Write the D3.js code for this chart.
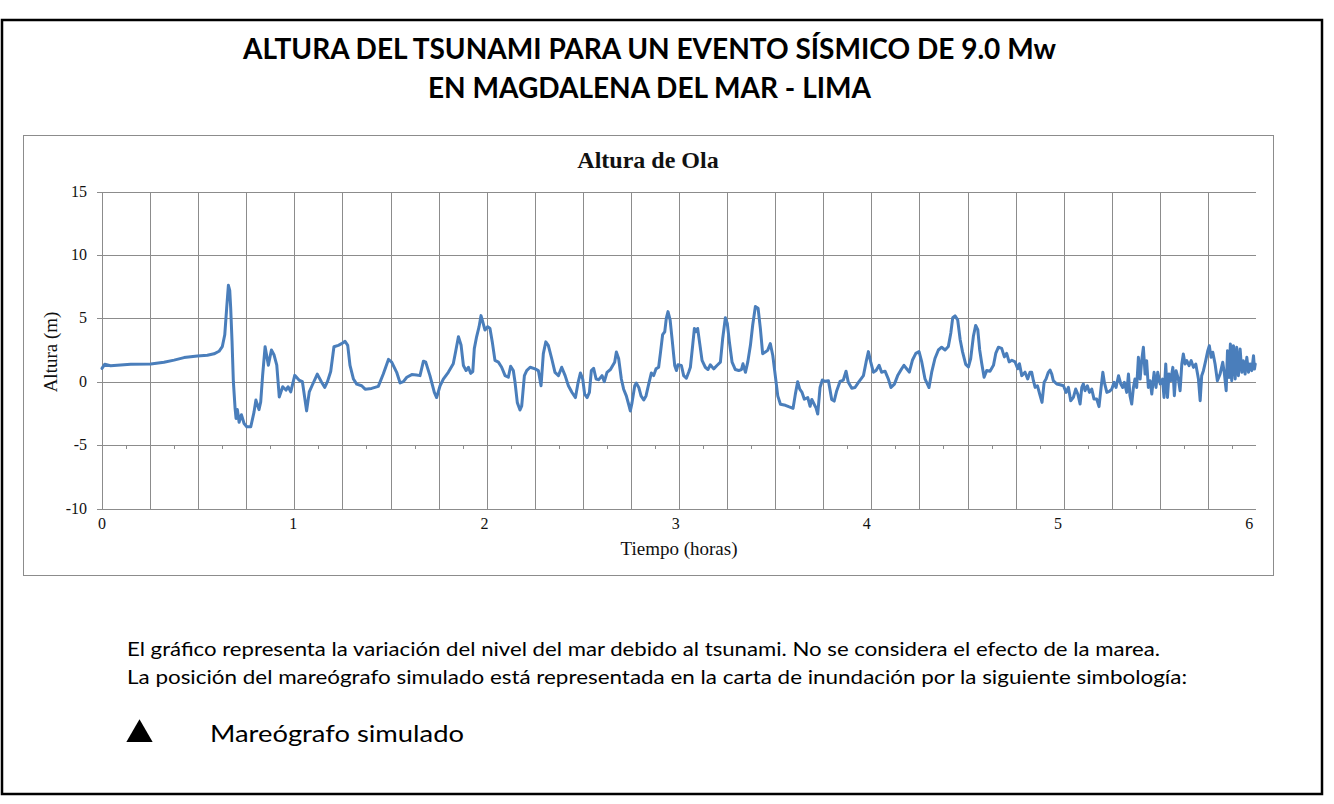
<!DOCTYPE html>
<html>
<head>
<meta charset="utf-8">
<script src="https://cdn.jsdelivr.net/npm/d3@7"></script>
<style>
  body { margin: 0; background: #fff; }
  svg { display: block; }
</style>
</head>
<body>
<script>
// tiempo en horas / altura en metros
var tiempoH = [
  0, 0.014, 0.045, 0.15, 0.255, 0.324, 0.377, 0.429, 0.499, 0.551, 0.586, 0.612, 0.629, 0.642, 0.652, 0.661, 0.668, 0.673, 0.680, 0.687,
  0.696, 0.701, 0.708, 0.717, 0.729, 0.743, 0.757, 0.778, 0.795, 0.805, 0.821, 0.830, 0.840, 0.853, 0.870, 0.886, 0.900, 0.914, 0.927, 0.945,
  0.962, 0.973, 0.987, 1.008, 1.030, 1.048, 1.070, 1.084, 1.100, 1.126, 1.147, 1.165, 1.179, 1.196, 1.213,
  1.236, 1.253, 1.271, 1.285, 1.297, 1.315, 1.332, 1.358, 1.376, 1.410, 1.445, 1.471, 1.498, 1.515, 1.541, 1.559, 1.576, 1.594, 1.620, 1.645,
  1.663, 1.681, 1.693, 1.715, 1.738, 1.750, 1.768, 1.785, 1.811, 1.837, 1.849, 1.864, 1.878, 1.890, 1.904, 1.916, 1.928, 1.939, 1.947, 1.959,
  1.972, 1.982, 1.991, 2.003, 2.017, 2.029, 2.041, 2.055, 2.073, 2.090, 2.108, 2.125, 2.137, 2.151, 2.160, 2.172, 2.186, 2.195, 2.209, 2.221,
  2.239, 2.265, 2.282, 2.296, 2.308, 2.321, 2.334, 2.352, 2.369, 2.387, 2.404, 2.422, 2.439,
  2.458, 2.476, 2.490, 2.502, 2.514, 2.524, 2.537, 2.549, 2.559, 2.571, 2.584, 2.598, 2.615, 2.627, 2.641, 2.659, 2.671, 2.681, 2.690, 2.702,
  2.716, 2.728, 2.742, 2.754, 2.763, 2.772, 2.786, 2.794, 2.807, 2.819, 2.833, 2.845, 2.859, 2.873, 2.885, 2.897, 2.911, 2.920, 2.932, 2.943,
  2.951, 2.960, 2.971, 2.981, 2.995, 3.004, 3.012, 3.030, 3.042, 3.056, 3.068, 3.077, 3.089, 3.098, 3.106, 3.115, 3.126, 3.138, 3.155, 3.169,
  3.181, 3.199, 3.216, 3.234, 3.246, 3.260, 3.270, 3.281, 3.295, 3.312, 3.330, 3.344, 3.352, 3.365, 3.377, 3.391, 3.403, 3.417, 3.431, 3.443,
  3.455, 3.469, 3.481, 3.495, 3.508, 3.521, 3.534, 3.548, 3.574, 3.591, 3.614, 3.626, 3.638, 3.649, 3.661, 3.673,
  3.691, 3.703, 3.712, 3.725, 3.734, 3.743, 3.755, 3.767, 3.781, 3.799, 3.816, 3.829, 3.842, 3.860, 3.877, 3.891, 3.903, 3.921, 3.938, 3.956,
  3.982, 3.996, 4.008, 4.020, 4.034, 4.048, 4.064, 4.077, 4.095, 4.112, 4.126, 4.144, 4.161, 4.182, 4.194, 4.208, 4.222, 4.238, 4.256, 4.273,
  4.287, 4.304, 4.325, 4.339, 4.356, 4.374, 4.391, 4.409, 4.426, 4.439, 4.449, 4.461, 4.475, 4.488, 4.500, 4.517, 4.531, 4.543, 4.557, 4.569,
  4.580, 4.590, 4.601, 4.613, 4.627, 4.644, 4.662, 4.674, 4.688, 4.705, 4.719, 4.731, 4.744, 4.758, 4.775, 4.789, 4.798, 4.810, 4.827, 4.841, 4.853,
  4.862, 4.871, 4.880, 4.892, 4.906, 4.916, 4.927, 4.937, 4.949, 4.958, 4.967, 4.975, 4.993, 5.010, 5.028, 5.042, 5.054, 5.066, 5.080, 5.092,
  5.103, 5.115, 5.124, 5.132, 5.141, 5.153, 5.164, 5.176, 5.188, 5.202, 5.214, 5.225, 5.234, 5.242, 5.255, 5.268, 5.281, 5.293, 5.303, 5.316,
  5.328, 5.338, 5.347, 5.359, 5.368, 5.376, 5.385, 5.394, 5.402, 5.411, 5.420, 5.429, 5.437, 5.446, 5.455, 5.463, 5.472, 5.481, 5.490, 5.502,
  5.512, 5.521, 5.534, 5.546, 5.554, 5.563, 5.572, 5.580, 5.589, 5.600, 5.608, 5.617, 5.629, 5.638, 5.647, 5.655, 5.664, 5.673, 5.685, 5.696,
  5.708, 5.720, 5.734, 5.743, 5.751, 5.760, 5.772, 5.783, 5.791, 5.800, 5.809, 5.821, 5.833, 5.847, 5.861, 5.870, 5.879, 5.886, 5.894, 5.901,
  5.908, 5.917, 5.926, 5.934, 5.943, 5.952, 5.961, 5.969, 5.978, 5.987, 5.996, 6.004, 6.013, 6.022, 6.027, 6.031
];
var alturaM = [
  1.05, 1.37, 1.26, 1.37, 1.4, 1.53, 1.7, 1.9, 2.03, 2.08, 2.2, 2.4, 2.76, 3.7, 5.8, 7.6, 7.2, 5.8, 3.2, 0,
  -2.1, -2.9, -2.2, -3.2, -2.6, -3.3, -3.55, -3.55, -2.4, -1.45, -2.2, -1.6, 0.5, 2.76, 1.3, 2.5, 2.1, 1.3, -1.2, -0.4,
  -0.66, -0.4, -0.8, 0.5, 0.13, 0, -2.3, -0.8, -0.26, 0.6, 0, -0.45, 0, 0.8, 2.76,
  2.87, 3.0, 3.19, 2.87, 1.28, 0.21, -0.19, -0.32, -0.59, -0.53, -0.37, 0.61, 1.76, 1.54, 0.74, -0.1, 0, 0.35, 0.56, 0.53,
  0.48, 1.62, 1.54, 0.48, -0.85, -1.25, -0.32, 0.21, 0.74, 1.41, 2.34, 3.54, 2.87, 1.28, 0.88, 1.14, 0.66, 0.8, 2.61, 3.54,
  4.34, 5.21, 4.73, 4.07, 4.34, 4.2, 3.14, 1.68, 1.54, 1.14, 0.48, 0.35, 1.22, 0.88, -0.05, -1.65, -2.23, -1.91, 0.48, 0.88,
  1.14, 1.01, 0.88, -0.32, 2.21, 3.14, 2.87, 1.81, 0.74, 0.48, 1.14, 0.48, -0.32,
  -0.85, -1.25, -0.05, 0.69, 0.21, -0.98, -1.25, -0.85, 0.88, 1.06, 0.21, 0.16, 0.48, 0, 0.74, 0.96, 1.28, 1.54, 2.34, 1.81,
  0.21, -0.59, -1.12, -1.78, -2.31, -1.65, -0.32, -0.11, -0.45, -1.12, -1.44, -1.12, -0.19, 0.69, 0.48, 1.01, 1.14, 2.21, 3.72, 3.94,
  5.0, 5.53, 4.87, 3.41, 1.28, 0.88, 1.33, 1.28, 0.48, 0.27, 0.74, 1.14, 2.87, 4.2, 3.94, 4.2, 3.0, 1.68, 1.14, 0.96,
  1.33, 1.01, 1.28, 1.54, 3.41, 5.05, 4.6, 3.14, 1.54, 0.96, 0.88, 0.96, 1.41, 0.74, 1.54, 2.87, 4.47, 5.93, 5.8, 4.2,
  2.21, 2.34, 2.47, 3.0, 2.07, 0.48, -1.12, -1.78, -1.86, -1.97, -2.1, -0.98, 0, -0.59, -0.85, -1.38,
  -1.26, -1.94, -1.4, -1.8, -2.07, -2.55, -0.46, 0.13, 0.03, 0.08, -1.4, -1.53, -0.73, 0.03, 0.13, 0.83, -0.05, -0.51, -0.46, -0.05,
  0.48, 1.56, 2.37, 1.56, 0.75, 0.89, 1.29, 0.75, 0.83, 0.22, -0.46, -0.19, 0.48, 1.02, 1.29, 1.02, 0.75, 1.69, 2.23, 2.37,
  1.56, 0.22, -0.46, 0.75, 1.83, 2.5, 2.72, 2.5, 2.77, 3.84, 5.05, 5.19, 4.87, 3.31, 2.37, 1.37, 1.16, 1.83, 3.58, 4.44,
  4.11, 2.5, 1.42, 0.35, 0.89, 0.83, 1.29, 2.23, 2.72, 2.63, 1.96, 2.23, 1.56, 1.69, 1.56, 1.02, 1.42, 0.48, 0.75, 0.22, 0.75,
  0.74, 0.08, -0.45, -0.32, -1.1, -1.63, -0.05, 0.21, 0.74, 0.92, 0.6, 0.08, -0.18, -0.24, -0.32, -0.84, -0.45, -1.5, -1.24, -0.58,
  -0.97, -1.76, -0.45, -0.18, -0.71, -0.32, -0.84, -0.58, -1.37, -1.37, -1.97, -0.45, 0.74, -0.05, -0.84, -0.76, -0.58, -0.05, -0.45, 0.47,
  -0.18, -0.45, -0.05, -0.84, 0.6, -1.1, -1.76, -0.45, 0.21, -0.45, 1.92, 0.21, 1.66, 2.71, 0.6, 1.66, -0.45, 0.08, -0.97, 0.74,
  -0.45, 0.74, -0.18, 0.21, -1.24, 1.39, -1.24, 0.6, 0.08, 1.13, -1.1, 0.87, 0.21, -0.71, 1.39, 2.18, 1.39, 1.66, 1.26, 1.66,
  1.13, 1.39, 0.21, -1.5, 0.47, 0.87, 1.66, 2.45, 2.84, 1.92, 2.32, 1.39, 0.08, 0.6, 1.53, 0.6, -0.71, 2.45, 0.34, 2.97,
  0.08, 2.84, 0.21, 2.71, 0.47, 2.58, 0.74, 1.66, 0.6, 1.92, 0.74, 1.39, 0.87, 2.05, 1.0, 1.39
];

var yTicks = [-10, -5, 0, 5, 10, 15];
var xTicks = [0, 1, 2, 3, 4, 5, 6];
var xMax = 6.035;      // fin del eje de tiempo
var nDivisiones = 24;  // lineas verticales de la cuadricula

var titulo = ["ALTURA DEL TSUNAMI PARA UN EVENTO SÍSMICO DE 9.0 Mw", "EN MAGDALENA DEL MAR - LIMA"];
var notas = [
  "El gráfico representa la variación del nivel del mar debido al tsunami. No se considera el efecto de la marea.",
  "La posición del mareógrafo simulado está representada en la carta de inundación por la siguiente simbología:"
];

var W = 1334, H = 804;
var gridColor = '#8c8c8c';
var lineColor = '#4a7ebb';

var svg = d3.select("body").append("svg")
  .attr("width", W)
  .attr("height", H);

svg.append("rect").attr("width", W).attr("height", H).attr("fill", "#fff");

// marco exterior
svg.append("rect")
  .attr("x", 2).attr("y", 20)
  .attr("width", 1320).attr("height", 774)
  .attr("fill", "none")
  .attr("stroke", "#000")
  .attr("stroke-width", 2.5);

// titulo principal
svg.selectAll(".titulo")
  .data(titulo)
  .enter()
  .append("text")
  .attr("class", "titulo")
  .attr("x", 649.5)
  .attr("y", function(d, i) { return 59 + i * 39; })
  .attr("text-anchor", "middle")
  .attr("font-family", "Lato, 'Open Sans', sans-serif")
  .attr("font-weight", "bold")
  .attr("font-size", "29px")
  .attr("textLength", function(d, i) { return i == 0 ? 813 : 443; })
  .attr("lengthAdjust", "spacingAndGlyphs")
  .text(function(d) { return d; });

// caja del grafico
svg.append("rect")
  .attr("x", 23.5).attr("y", 135.5)
  .attr("width", 1250).attr("height", 440)
  .attr("fill", "none")
  .attr("stroke", gridColor)
  .attr("stroke-width", 1);

var x = d3.scaleLinear().domain([0, xMax]).range([102, 1256]);
var y = d3.scaleLinear().domain([-10, 15]).range([508.5, 191.5]);

var serif = "'Liberation Serif', 'Times New Roman', serif";

svg.append("text")
  .attr("x", 648)
  .attr("y", 168)
  .attr("text-anchor", "middle")
  .attr("font-family", serif)
  .attr("font-weight", "bold")
  .attr("font-size", "24px")
  .attr("fill", "#111")
  .text("Altura de Ola");

var grid = svg.append("g").attr("shape-rendering", "crispEdges");

// lineas horizontales
grid.selectAll(".hgrid")
  .data(yTicks)
  .enter()
  .append("line")
  .attr("x1", 97)
  .attr("x2", x(xMax))
  .attr("y1", function(d) { return Math.round(y(d)) + 0.5; })
  .attr("y2", function(d) { return Math.round(y(d)) + 0.5; })
  .attr("stroke", gridColor);

// lineas verticales
var vIdx = d3.range(0, nDivisiones);
grid.selectAll(".vgrid")
  .data(vIdx)
  .enter()
  .append("line")
  .attr("x1", function(d) { return Math.round(x(d * xMax / nDivisiones)) + 0.5; })
  .attr("x2", function(d) { return Math.round(x(d * xMax / nDivisiones)) + 0.5; })
  .attr("y1", y(15))
  .attr("y2", y(-10))
  .attr("stroke", gridColor);

// marcas menores sobre la linea de -5
grid.selectAll(".minor")
  .data(vIdx)
  .enter()
  .append("line")
  .attr("x1", function(d) { return Math.round(x((d + 0.5) * xMax / nDivisiones)) + 0.5; })
  .attr("x2", function(d) { return Math.round(x((d + 0.5) * xMax / nDivisiones)) + 0.5; })
  .attr("y1", Math.round(y(-5)))
  .attr("y2", Math.round(y(-5)) + 4)
  .attr("stroke", gridColor);

// etiquetas eje Y
svg.selectAll(".ylab")
  .data(yTicks)
  .enter()
  .append("text")
  .attr("x", 87)
  .attr("y", function(d) { return y(d) + 5; })
  .attr("text-anchor", "end")
  .attr("font-family", serif)
  .attr("font-size", "16px")
  .attr("fill", "#111")
  .text(function(d) { return d; });

// etiquetas eje X
svg.selectAll(".xlab")
  .data(xTicks)
  .enter()
  .append("text")
  .attr("x", function(d) { return x(d); })
  .attr("y", 529)
  .attr("text-anchor", "middle")
  .attr("font-family", serif)
  .attr("font-size", "16px")
  .attr("fill", "#111")
  .text(function(d) { return d; });

svg.append("text")
  .attr("x", 679)
  .attr("y", 555)
  .attr("text-anchor", "middle")
  .attr("font-family", serif)
  .attr("font-size", "19px")
  .attr("fill", "#111")
  .text("Tiempo (horas)");

svg.append("text")
  .attr("transform", "translate(57," + 352 + ")rotate(-90)")
  .attr("text-anchor", "middle")
  .attr("font-family", serif)
  .attr("font-size", "19px")
  .attr("fill", "#111")
  .text("Altura (m)");

// serie
var serie = tiempoH.map(function(t, i) { return { t: t, h: alturaM[i] }; });
var linea = d3.line()
  .x(function(d) { return x(d.t); })
  .y(function(d) { return y(d.h); });

svg.append("path")
  .datum(serie)
  .attr("d", linea)
  .attr("fill", "none")
  .attr("stroke", lineColor)
  .attr("stroke-width", 3)
  .attr("stroke-linejoin", "round")
  .attr("stroke-linecap", "round");

// notas inferiores
svg.selectAll(".nota")
  .data(notas)
  .enter()
  .append("text")
  .attr("x", 127)
  .attr("y", function(d, i) { return 656 + i * 28; })
  .attr("font-family", "Lato, 'Open Sans', sans-serif")
  .attr("font-size", "19px")
  .attr("fill", "#000")
  .attr("textLength", function(d, i) { return i == 0 ? 1033 : 1060; })
  .attr("lengthAdjust", "spacingAndGlyphs")
  .text(function(d) { return d; });

svg.append("path")
  .attr("d", d3.symbol().type(d3.symbolTriangle).size(300)())
  .attr("transform", "translate(139.5,734.5)")
  .attr("fill", "#000");

svg.append("text")
  .attr("x", 210)
  .attr("y", 742)
  .attr("font-family", "Lato, 'Open Sans', sans-serif")
  .attr("font-size", "24px")
  .attr("fill", "#000")
  .attr("textLength", 254)
  .attr("lengthAdjust", "spacingAndGlyphs")
  .text("Mareógrafo simulado");
</script>
</body>
</html>
